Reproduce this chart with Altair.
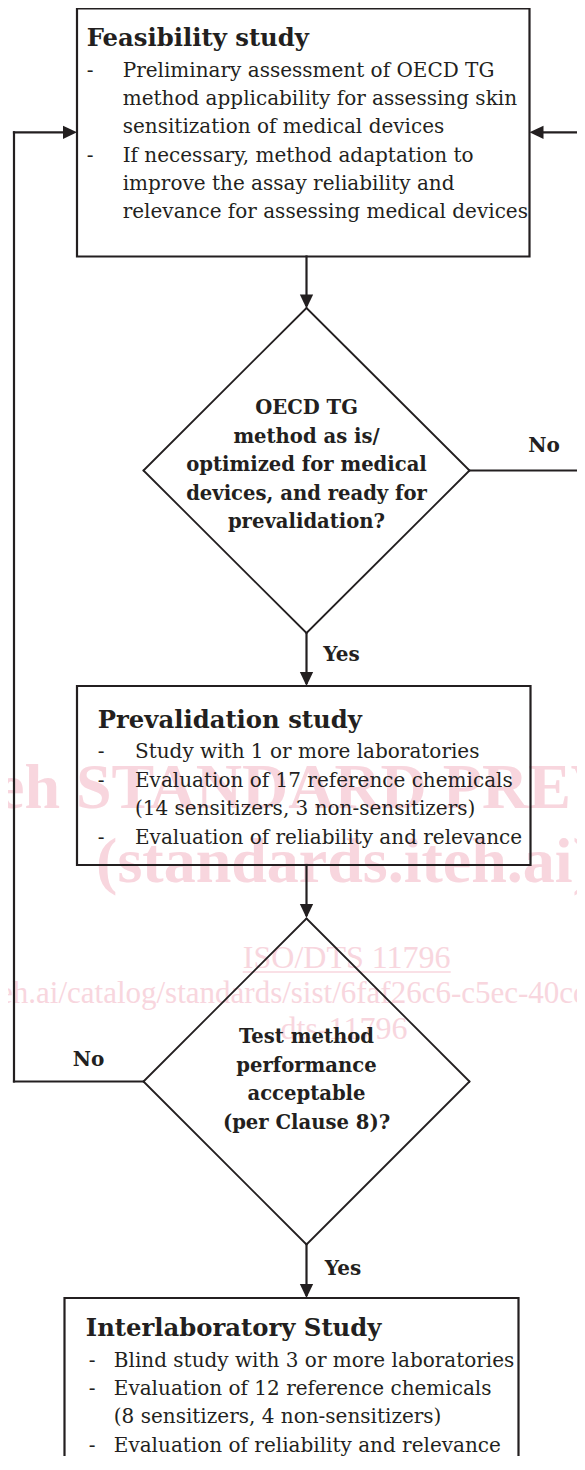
import altair as alt
import pandas as pd

INK = "#231f20"
PINK = "#f8d6de"
SERIF = "DejaVu Serif"

# ---------------- boxes ----------------
box_x1 = [77, 77, 64.5]
box_x2 = [529.5, 530.5, 518.5]
box_y1 = [8.5, 686, 1298]
box_y2 = [256.5, 865, 1530]

box_titles = ["Feasibility study", "Prevalidation study", "Interlaboratory Study"]
title_x = [86.7, 97.8, 85.8]
title_base = [46, 728, 1336]

feas_lines = [
    "Preliminary assessment of OECD TG",
    "method applicability for assessing skin",
    "sensitization of medical devices",
    "If necessary, method adaptation to",
    "improve the assay reliability and",
    "relevance for assessing medical devices",
]
feas_bullets = [1, 0, 0, 1, 0, 0]
prev_lines = [
    "Study with 1 or more laboratories",
    "Evaluation of 17 reference chemicals",
    "(14 sensitizers, 3 non-sensitizers)",
    "Evaluation of reliability and relevance",
]
prev_bullets = [1, 1, 0, 1]
inter_lines = [
    "Blind study with 3 or more laboratories",
    "Evaluation of 12 reference chemicals",
    "(8 sensitizers, 4 non-sensitizers)",
    "Evaluation of reliability and relevance",
]
inter_bullets = [1, 1, 0, 1]

body_sets = [feas_lines, prev_lines, inter_lines]
bullet_sets = [feas_bullets, prev_bullets, inter_bullets]
dash_x = [86.7, 97.7, 88.8]
body_x = [122.7, 135.0, 113.8]
body_first = [76.7, 758.3, 1366.5]
body_lh = [28.3, 28.5, 28.4]

# ---------------- decisions ----------------
dia_cx = [306.5, 306.5]
dia_cy = [470.5, 1081.5]
dia_hw = [163, 163]
dia_hh = [162.5, 163]
dia_lines = [
    ["OECD TG", "method as is/", "optimized for medical",
     "devices, and ready for", "prevalidation?"],
    ["Test method", "performance", "acceptable", "(per Clause 8)?"],
]
dia_first = [408.3, 1037]
dia_lh = [28.5, 28.7]

labels = ["No", "Yes", "No", "Yes"]
label_x = [544, 341.5, 88.6, 343]
label_y = [446, 655, 1060, 1269]

# ---------------- connectors ----------------
seg_x1 = [306.5, 306.5, 306.5, 306.5, 143.7, 14, 14, 469, 600, 600]
seg_y1 = [256.5, 633, 865, 1244, 1081.5, 1081.5, 132.3, 470.5, 470.5, 132.3]
seg_x2 = [306.5, 306.5, 306.5, 306.5, 14, 14, 70, 600, 600, 536]
seg_y2 = [305, 683, 915, 1295, 1081.5, 132.3, 132.3, 470.5, 132.3, 132.3]

head_x = [306.5, 306.5, 306.5, 306.5, 77, 529.5]
head_y = [308.5, 686, 918, 1298, 132.3, 132.3]
head_angle = [0, 0, 0, 0, 270, 90]

# ---------------- watermark ----------------
wm_big = ["iTeh STANDARD PREVIEW", "(standards.iteh.ai)"]
wm_big_x = [345, 345]
wm_big_y = [808, 882]
wm_small = ["ISO/DTS 11796", "dts-11796"]
wm_small_x = [346.7, 344]
wm_small_y = [968, 1039]
wm_url = "eh.ai/catalog/standards/sist/6faf26c6-c5ec-40cd"
wm_url_x = -1
wm_url_y = 1003.3

# ---------------- tables ----------------
X = lambda f="x": alt.X(f"{f}:Q", scale=alt.Scale(domain=[8, 577], nice=False, zero=False), axis=None)
Y = lambda f="y": alt.Y(f"{f}:Q", scale=alt.Scale(domain=[8, 1456], nice=False, zero=False, reverse=True), axis=None)

boxes = pd.DataFrame({"x": box_x1, "x2": box_x2, "y": box_y1, "y2": box_y2})

dseg = []
for cx, cy, hw, hh in zip(dia_cx, dia_cy, dia_hw, dia_hh):
    pts = [(cx, cy - hh), (cx + hw, cy), (cx, cy + hh), (cx - hw, cy), (cx, cy - hh)]
    for a, b in zip(pts[:-1], pts[1:]):
        dseg.append({"x": a[0], "y": a[1], "x2": b[0], "y2": b[1]})
dseg = pd.DataFrame(dseg)

segs = pd.DataFrame({"x": seg_x1, "y": seg_y1, "x2": seg_x2, "y2": seg_y2})
heads = pd.DataFrame({"x": head_x, "y": head_y, "a": head_angle})

titles = pd.DataFrame({"t": box_titles, "x": title_x, "y": title_base})

body_rows, dash_rows = [], []
for lines, bul, dx, bx, y0, lh in zip(body_sets, bullet_sets, dash_x, body_x, body_first, body_lh):
    for i, (ln, b) in enumerate(zip(lines, bul)):
        body_rows.append({"t": ln, "x": bx, "y": y0 + i * lh})
        if b:
            dash_rows.append({"t": "-", "x": dx, "y": y0 + i * lh})
body = pd.DataFrame(body_rows)
dashes = pd.DataFrame(dash_rows)

dia_rows = []
for lines, cx, y0, lh in zip(dia_lines, dia_cx, dia_first, dia_lh):
    for i, ln in enumerate(lines):
        dia_rows.append({"t": ln, "x": cx, "y": y0 + i * lh})
dia_text = pd.DataFrame(dia_rows)

lab = pd.DataFrame({"t": labels, "x": label_x, "y": label_y})

wmb = pd.DataFrame({"t": wm_big, "x": wm_big_x, "y": wm_big_y})
wms = pd.DataFrame({"t": wm_small, "x": wm_small_x, "y": wm_small_y})
wmu = pd.DataFrame({"t": [wm_url], "x": [wm_url_x], "y": [wm_url_y]})
wm_line = pd.DataFrame({"x": [242.7], "x2": [450.7], "y": [972]})

# ---------------- layers ----------------
L_wmb = alt.Chart(wmb).mark_text(font="Liberation Serif", fontWeight="bold", fontSize=64,
                                 align="center", baseline="alphabetic", color=PINK).encode(
    x=X(), y=Y(), text="t:N")
L_wms = alt.Chart(wms).mark_text(font="Liberation Serif", fontSize=32,
                                 align="center", baseline="alphabetic", color=PINK).encode(
    x=X(), y=Y(), text="t:N")
L_wmu = alt.Chart(wmu).mark_text(font="Liberation Serif", fontSize=31,
                                 align="left", baseline="alphabetic", color=PINK).encode(
    x=X(), y=Y(), text="t:N")
L_wml = alt.Chart(wm_line).mark_rule(color=PINK, strokeWidth=1.5).encode(
    x=X(), x2="x2:Q", y=Y())

L_box = alt.Chart(boxes).mark_rect(fillOpacity=0, stroke=INK, strokeWidth=2.2).encode(
    x=X(), x2="x2:Q", y=Y(), y2="y2:Q")
L_dia = alt.Chart(dseg).mark_rule(color=INK, strokeWidth=1.8, strokeCap="round").encode(
    x=X(), y=Y(), x2="x2:Q", y2="y2:Q")
L_seg = alt.Chart(segs).mark_rule(color=INK, strokeWidth=2.2, strokeCap="square").encode(
    x=X(), y=Y(), x2="x2:Q", y2="y2:Q")
L_head = alt.Chart(heads).mark_point(shape="M0,0L-0.95,-2L0.95,-2Z", filled=True, opacity=1,
                                     size=196, color=INK, strokeWidth=0).encode(
    x=X(), y=Y(), angle=alt.Angle("a:Q", scale=None))

L_title = alt.Chart(titles).mark_text(font=SERIF, fontWeight="bold", fontSize=24.3,
                                      align="left", baseline="alphabetic", color=INK).encode(
    x=X(), y=Y(), text="t:N")
L_body = alt.Chart(body).mark_text(font=SERIF, fontSize=20, align="left",
                                   baseline="alphabetic", color=INK).encode(
    x=X(), y=Y(), text="t:N")
L_dash = alt.Chart(dashes).mark_text(font=SERIF, fontSize=20, align="left",
                                     baseline="alphabetic", color=INK).encode(
    x=X(), y=Y(), text="t:N")
L_dtext = alt.Chart(dia_text).mark_text(font=SERIF, fontWeight="bold", fontSize=19.6,
                                        align="center", baseline="middle", color=INK).encode(
    x=X(), y=Y(), text="t:N")
L_lab = alt.Chart(lab).mark_text(font=SERIF, fontWeight="bold", fontSize=20,
                                 align="center", baseline="middle", color=INK).encode(
    x=X(), y=Y(), text="t:N")

chart = alt.layer(
    L_wmb, L_wms, L_wmu, L_wml,
    L_box, L_dia, L_seg, L_head,
    L_title, L_body, L_dash, L_dtext, L_lab,
).properties(
    width=569, height=1448,
    autosize=alt.AutoSizeParams(type="none"),
    padding=0,
    background="white",
).configure_view(strokeWidth=0)

chart.save("out.html", embed_options={"renderer": "svg", "actions": False})
